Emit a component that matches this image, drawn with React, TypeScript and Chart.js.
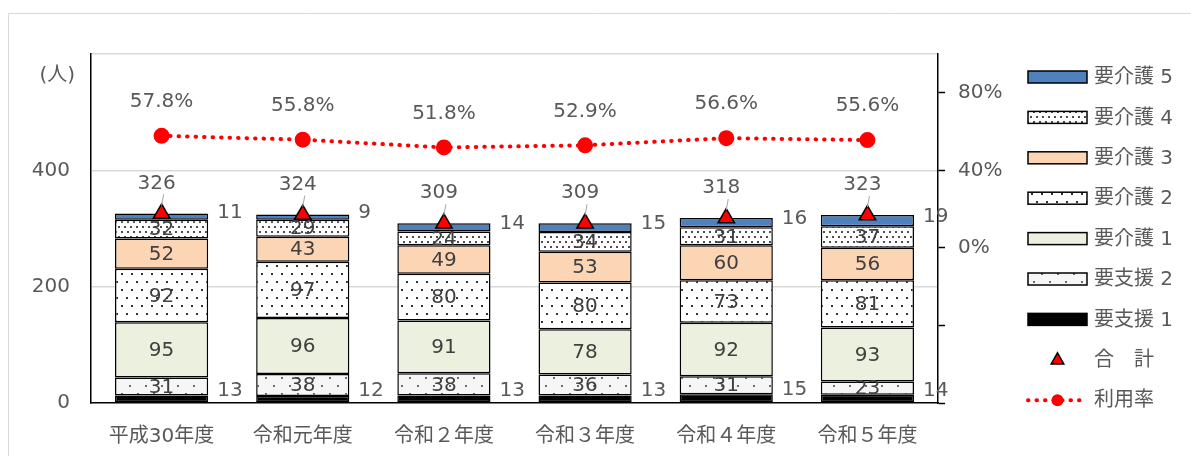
import React, { useEffect, useRef } from "react";
import { Chart, registerables } from "chart.js";

Chart.register(...registerables);

const categories = ["平成30年度", "令和元年度", "令和２年度", "令和３年度", "令和４年度", "令和５年度"];
const shien1 = [13, 12, 13, 13, 15, 14];
const shien2 = [31, 38, 38, 36, 31, 23];
const kaigo1 = [95, 96, 91, 78, 92, 93];
const kaigo2 = [92, 97, 80, 80, 73, 81];
const kaigo3 = [52, 43, 49, 53, 60, 56];
const kaigo4 = [32, 29, 24, 34, 31, 37];
const kaigo5 = [11, 9, 14, 15, 16, 19];
const totals = [326, 324, 309, 309, 318, 323];
const rates = [57.8, 55.8, 51.8, 52.9, 56.6, 55.6];
const leftTicks = [0, 200, 400, 600];
const rightTicks = [-80, -40, 0, 40, 80];

const FONT = "'DejaVu Sans', 'Noto Sans CJK JP', sans-serif";
const TEXT = "#595959";
const FS = 20;

function dotPattern(bg: string, dot: string, w: number, h: number, size: number) {
  const c = document.createElement("canvas");
  c.width = w;
  c.height = h * 2;
  const g = c.getContext("2d")!;
  g.fillStyle = bg;
  g.fillRect(0, 0, w, h * 2);
  g.fillStyle = dot;
  g.fillRect(1, 1, size, size);
  g.fillRect(1 + w / 2, 1 + h, size, size);
  return g.createPattern(c, "repeat")!;
}

export default function App() {
  const ref = useRef<HTMLCanvasElement>(null);

  useEffect(() => {
    const canvas = ref.current!;
    const pKaigo4 = dotPattern("#ffffff", "#4d4d4d", 6, 5, 2);
    const pKaigo2 = dotPattern("#ffffff", "#333333", 10, 8, 2);
    const pShien2 = dotPattern("#f6f6f6", "#6a6a6a", 16, 8, 2);

    const barBase = {
      type: "bar" as const,
      borderColor: "#000000",
      borderWidth: 1.5,
      borderSkipped: false as const,
      inflateAmount: 0,
      yAxisID: "y",
      order: 2,
      stack: "s",
    };

    const datasets: any[] = [
      { ...barBase, label: "要支援 1", data: shien1, backgroundColor: "#000000" },
      { ...barBase, label: "要支援 2", data: shien2, backgroundColor: pShien2 },
      { ...barBase, label: "要介護 1", data: kaigo1, backgroundColor: "#ebf1de" },
      { ...barBase, label: "要介護 2", data: kaigo2, backgroundColor: pKaigo2 },
      { ...barBase, label: "要介護 3", data: kaigo3, backgroundColor: "#fcd5b5" },
      { ...barBase, label: "要介護 4", data: kaigo4, backgroundColor: pKaigo4 },
      { ...barBase, label: "要介護 5", data: kaigo5, backgroundColor: "#4f81bd" },
      {
        type: "line",
        label: "合　計",
        data: totals,
        yAxisID: "y",
        stack: "total",
        showLine: false,
        pointStyle: "triangle",
        pointRadius: 9.5,
        pointBackgroundColor: "#ff0000",
        pointBorderColor: "#000000",
        pointBorderWidth: 1.5,
        order: 1,
      },
      {
        type: "line",
        label: "利用率",
        data: rates,
        yAxisID: "y1",
        borderColor: "#ff0000",
        borderWidth: 4,
        borderDash: [0.5, 8],
        borderCapStyle: "round",
        pointRadius: 8,
        pointBackgroundColor: "#ff0000",
        pointBorderColor: "#ff0000",
        pointBorderWidth: 0,
        order: 0,
      },
    ];

    const plugin = {
      id: "custom",
      beforeDraw(chart: any) {
        const ctx = chart.ctx;
        ctx.save();
        ctx.fillStyle = "#ffffff";
        ctx.fillRect(0, 0, chart.width, chart.height);
        ctx.strokeStyle = "#d9d9d9";
        ctx.lineWidth = 1;
        ctx.beginPath();
        ctx.moveTo(8.5, chart.height);
        ctx.lineTo(8.5, 13.5);
        ctx.lineTo(chart.width, 13.5);
        ctx.stroke();
        ctx.restore();
      },
      afterDatasetsDraw(chart: any) {
        const ctx = chart.ctx;
        ctx.save();
        ctx.font = `${FS}px ${FONT}`;
        ctx.textBaseline = "middle";
        for (let i = 0; i < 7; i++) {
          const meta = chart.getDatasetMeta(i);
          meta.data.forEach((el: any, j: number) => {
            const { x, y, base, width } = el.getProps(["x", "y", "base", "width"], true);
            const v = chart.data.datasets[i].data[j];
            if (i === 0 || i === 6) {
              ctx.fillStyle = TEXT;
              ctx.textAlign = "left";
              ctx.fillText(String(v), x + width / 2 + 9, (y + base) / 2 - (i === 0 ? 8 : 4));
            } else {
              ctx.fillStyle = "#404040";
              ctx.textAlign = "center";
              ctx.fillText(String(v), x, (y + base) / 2 + 1);
            }
          });
        }
        // totals
        const tMeta = chart.getDatasetMeta(7);
        tMeta.data.forEach((el: any, j: number) => {
          const { x, y } = el.getProps(["x", "y"], true);
          ctx.strokeStyle = "#a6a6a6";
          ctx.lineWidth = 1;
          ctx.beginPath();
          ctx.moveTo(x + 2, y - 19);
          ctx.lineTo(x, y - 8);
          ctx.stroke();
          ctx.fillStyle = TEXT;
          ctx.textAlign = "center";
          ctx.fillText(String(totals[j]), x - 5, y - 30);
        });
        // rates
        const rMeta = chart.getDatasetMeta(8);
        rMeta.data.forEach((el: any, j: number) => {
          const { x, y } = el.getProps(["x", "y"], true);
          ctx.fillStyle = TEXT;
          ctx.textAlign = "center";
          ctx.fillText(rates[j].toFixed(1) + "%", x, y - 34);
        });
        ctx.restore();
      },
      afterDraw(chart: any) {
        const ctx = chart.ctx;
        ctx.save();
        ctx.font = `${FS}px ${FONT}`;
        ctx.fillStyle = TEXT;
        ctx.textBaseline = "middle";
        ctx.textAlign = "right";
        ctx.fillText("(人)", 75, 76);

        // legend
        const order = [6, 5, 4, 3, 2, 1, 0, 7, 8];
        const x0 = 1028;
        const bw = 59;
        const tx = 1094;
        order.forEach((di, k) => {
          const ds = chart.data.datasets[di];
          const cy = 77 + k * 40.4;
          if (di < 7) {
            ctx.fillStyle = ds.backgroundColor;
            ctx.fillRect(x0, cy - 6, bw, 12);
            ctx.strokeStyle = "#000000";
            ctx.lineWidth = 1.5;
            ctx.strokeRect(x0, cy - 6, bw, 12);
          } else if (di === 7) {
            const cx = x0 + bw / 2;
            const r = 7;
            ctx.beginPath();
            ctx.moveTo(cx, cy - r);
            ctx.lineTo(cx + r * 0.9, cy + r * 0.6);
            ctx.lineTo(cx - r * 0.9, cy + r * 0.6);
            ctx.closePath();
            ctx.fillStyle = "#ff0000";
            ctx.fill();
            ctx.strokeStyle = "#000";
            ctx.lineWidth = 1.5;
            ctx.stroke();
          } else {
            ctx.strokeStyle = "#ff0000";
            ctx.lineWidth = 4;
            ctx.lineCap = "round";
            ctx.setLineDash([0.5, 8]);
            ctx.beginPath();
            ctx.moveTo(x0, cy);
            ctx.lineTo(x0 + bw, cy);
            ctx.stroke();
            ctx.setLineDash([]);
            ctx.beginPath();
            ctx.arc(x0 + bw / 2, cy, 6, 0, Math.PI * 2);
            ctx.fillStyle = "#ff0000";
            ctx.fill();
          }
          ctx.fillStyle = TEXT;
          ctx.textAlign = "left";
          ctx.font = `${FS}px ${FONT}`;
          ctx.fillText(ds.label, tx, cy + 1);
        });
        ctx.restore();
      },
    };

    const chart = new Chart(canvas, {
      type: "bar",
      data: { labels: categories, datasets },
      options: {
        responsive: false,
        animation: false,
        devicePixelRatio: 1,
        layout: { padding: { left: 0, right: 0, top: 54, bottom: 0 } },
        plugins: { legend: { display: false }, tooltip: { enabled: false } },
        scales: {
          x: {
            stacked: true,
            grid: { display: false, drawTicks: false },
            border: { display: true, color: "#000000", width: 1.5 },
            ticks: { color: TEXT, font: { family: FONT, size: FS }, padding: 22 },
            afterFit: (s: any) => {
              s.height = 53;
            },
          } as any,
          y: {
            stacked: true,
            position: "left",
            min: 0,
            max: 600,
            afterBuildTicks: (s: any) => {
              s.ticks = leftTicks.map((v) => ({ value: v }));
            },
            grid: {
              drawTicks: false,
              color: (c: any) => (c.tick && c.tick.value === 0 ? "rgba(0,0,0,0)" : "#d9d9d9"),
              lineWidth: 1.5,
            },
            border: { display: true, color: "#000000", width: 1.5 },
            ticks: {
              color: TEXT,
              font: { family: FONT, size: FS },
              padding: 21,
              callback: (v: any) => (v === 600 ? "" : String(v)),
            },
            afterFit: (s: any) => {
              s.width = 91;
            },
          } as any,
          y1: {
            position: "right",
            min: -80,
            max: 100,
            afterBuildTicks: (s: any) => {
              s.ticks = rightTicks.map((v) => ({ value: v }));
            },
            grid: { drawOnChartArea: false, drawTicks: true, tickLength: 7, tickColor: "#000000", tickWidth: 1.5 },
            border: { display: true, color: "#000000", width: 1.5 },
            ticks: {
              color: TEXT,
              font: { family: FONT, size: FS },
              padding: 13,
              callback: (v: any) => (v >= 0 ? v + "%" : ""),
            },
            afterFit: (s: any) => {
              s.width = 253;
            },
          } as any,
        },
        datasets: {
          bar: { barPercentage: 0.66, categoryPercentage: 1 },
        } as any,
      },
      plugins: [plugin],
    });

    return () => chart.destroy();
  }, []);

  return (
    <div style={{ position: "absolute", left: 0, top: 0, width: 1191, height: 456 }}>
      <canvas ref={ref} width={1191} height={456} style={{ width: 1191, height: 456, display: "block" }} />
    </div>
  );
}
